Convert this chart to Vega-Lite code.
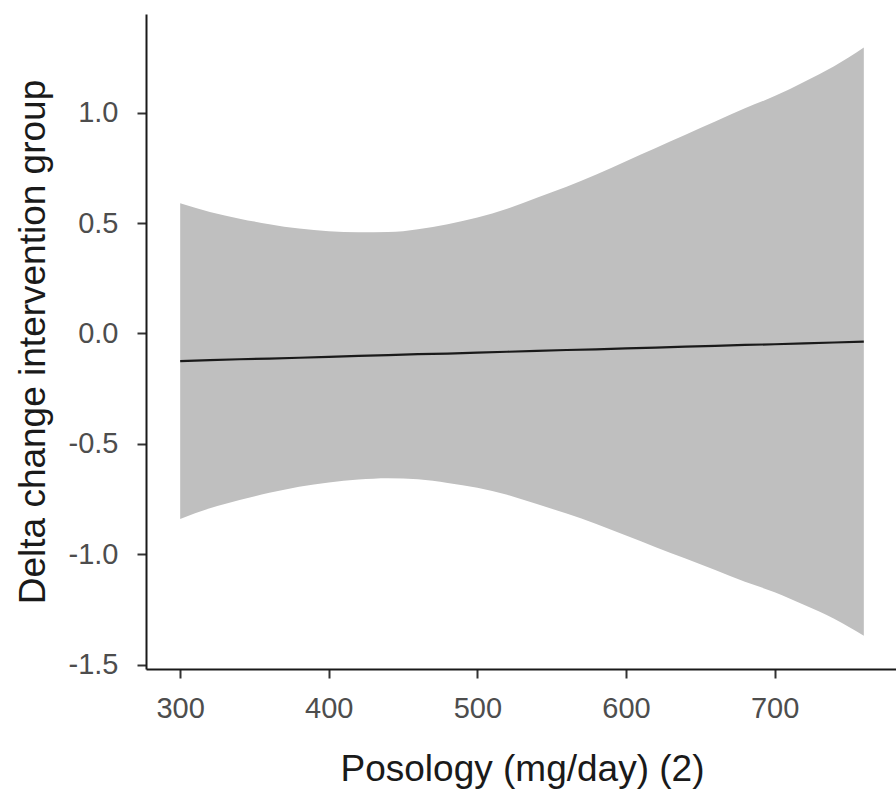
{
  "$schema": "https://vega.github.io/schema/vega-lite/v6.json",
  "width": 752,
  "height": 655,
  "autosize": "none",
  "padding": {"left": 146, "top": 14, "right": 0, "bottom": 127},
  "background": "white",
  "config": {
    "view": {"stroke": null},
    "font": "Liberation Sans",
    "axis": {
      "grid": false,
      "domainColor": "#1a1a1a",
      "domainWidth": 2,
      "tickColor": "#333333",
      "tickWidth": 2,
      "tickSize": 9,
      "labelFont": "Liberation Sans",
      "labelFontSize": 29,
      "labelColor": "#4D4D4D",
      "titleFont": "Liberation Sans",
      "titleFontSize": 37,
      "titleFontWeight": "normal",
      "titleColor": "#1a1a1a"
    }
  },
  "data": {
    "values": [
      {"dose": 300, "fit": -0.125, "lo": -0.84, "hi": 0.59},
      {"dose": 320, "fit": -0.121, "lo": -0.792, "hi": 0.55},
      {"dose": 340, "fit": -0.117, "lo": -0.755, "hi": 0.52},
      {"dose": 360, "fit": -0.114, "lo": -0.722, "hi": 0.495},
      {"dose": 380, "fit": -0.11, "lo": -0.694, "hi": 0.475},
      {"dose": 400, "fit": -0.106, "lo": -0.675, "hi": 0.463},
      {"dose": 420, "fit": -0.102, "lo": -0.662, "hi": 0.458},
      {"dose": 440, "fit": -0.098, "lo": -0.656, "hi": 0.459},
      {"dose": 460, "fit": -0.094, "lo": -0.661, "hi": 0.472},
      {"dose": 480, "fit": -0.091, "lo": -0.677, "hi": 0.495},
      {"dose": 500, "fit": -0.087, "lo": -0.699, "hi": 0.525},
      {"dose": 520, "fit": -0.083, "lo": -0.731, "hi": 0.565},
      {"dose": 540, "fit": -0.079, "lo": -0.773, "hi": 0.615},
      {"dose": 560, "fit": -0.075, "lo": -0.816, "hi": 0.665},
      {"dose": 580, "fit": -0.072, "lo": -0.863, "hi": 0.72},
      {"dose": 600, "fit": -0.068, "lo": -0.915, "hi": 0.78},
      {"dose": 620, "fit": -0.064, "lo": -0.968, "hi": 0.84},
      {"dose": 640, "fit": -0.06, "lo": -1.02, "hi": 0.9},
      {"dose": 660, "fit": -0.056, "lo": -1.072, "hi": 0.96},
      {"dose": 680, "fit": -0.052, "lo": -1.125, "hi": 1.02},
      {"dose": 700, "fit": -0.049, "lo": -1.172, "hi": 1.075},
      {"dose": 720, "fit": -0.045, "lo": -1.23, "hi": 1.14},
      {"dose": 740, "fit": -0.041, "lo": -1.292, "hi": 1.21},
      {"dose": 760, "fit": -0.037, "lo": -1.369, "hi": 1.295}
    ]
  },
  "encoding": {
    "x": {
      "field": "dose",
      "type": "quantitative",
      "scale": {"domain": [277, 783], "nice": false, "zero": false},
      "axis": {
        "title": "Posology (mg/day) (2)",
        "values": [300, 400, 500, 600, 700],
        "labelPadding": 16,
        "titleY": 111,
        "titleBaseline": "alphabetic"
      }
    }
  },
  "layer": [
    {
      "mark": {"type": "area", "color": "#BFBFBF", "opacity": 1, "interpolate": "monotone"},
      "encoding": {
        "y": {
          "field": "lo",
          "type": "quantitative",
          "scale": {"domain": [-1.52, 1.447], "nice": false, "zero": false},
          "axis": {
            "title": "Delta change intervention group",
            "values": [-1.5, -1, -0.5, 0, 0.5, 1],
            "labelExpr": "datum.value < 0 ? '-' + format(-datum.value, '.1f') : format(datum.value, '.1f')",
            "labelPadding": 19,
            "titleX": -102,
            "titleY": 327.5,
            "titleBaseline": "alphabetic"
          }
        },
        "y2": {"field": "hi"}
      }
    },
    {
      "mark": {"type": "line", "color": "#1a1a1a", "strokeWidth": 2.2},
      "encoding": {
        "y": {"field": "fit", "type": "quantitative"}
      }
    }
  ]
}
